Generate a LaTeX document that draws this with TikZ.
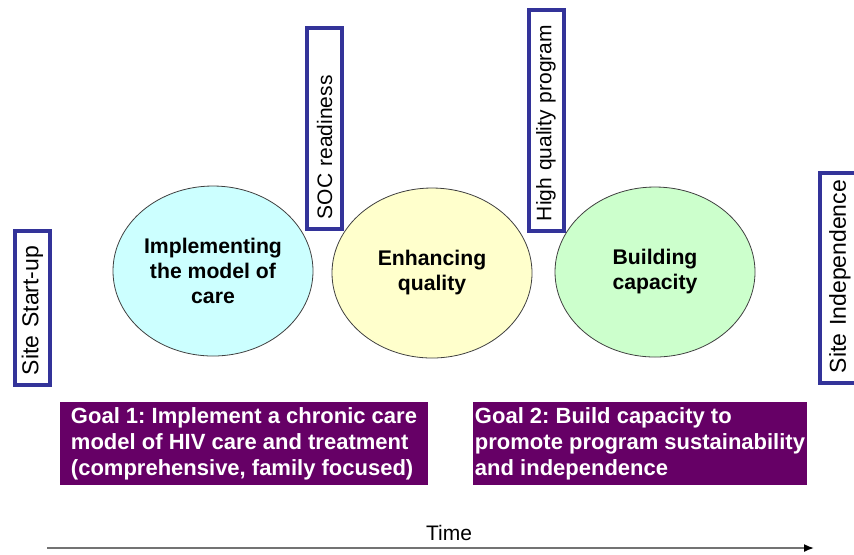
\documentclass[tikz,border=0pt]{standalone}
\usepackage{fontspec}
\setmainfont{Liberation Sans}
\usetikzlibrary{shapes.geometric,arrows.meta}
\frenchspacing

\definecolor{milestoneblue}{HTML}{333399}
\definecolor{goalpurple}{HTML}{660066}
\definecolor{phaseone}{HTML}{CCFFFF}
\definecolor{phasetwo}{HTML}{FFFFCC}
\definecolor{phasethree}{HTML}{CCFFCC}

\tikzset{
  phase/.style={ellipse, draw=black!75, thin, minimum width=100pt, minimum height=85pt,
    inner sep=0pt, align=center, font=\fontsize{10.6}{12.5}\selectfont\bfseries},
  milestone/.style={draw=milestoneblue, line width=2pt, fill=white, rotate=90,
    minimum height=17.5pt, inner xsep=5pt, inner ysep=0pt, align=left,
    font=\fontsize{10.5}{12}\selectfont},
  goalbox/.style={fill=goalpurple, text=white, minimum height=41.5pt, inner sep=0pt,
    align=left, font=\fontsize{11}{13}\selectfont\bfseries},
  timeline/.style={draw=black!55, thick, -{Latex[length=5pt,width=4pt,black]}}
}

\begin{document}
\begin{tikzpicture}[x=0.5pt, y=-0.5pt]
  \useasboundingbox (0,0) rectangle (854,554);

  % phases
  \node[phase, fill=phaseone]   (implement) at (213,271) {Implementing\\the model of\\care};
  \node[phase, fill=phasetwo]   (enhance)   at (432,273) {Enhancing\\quality};
  \node[phase, fill=phasethree] (build)     at (655,272) {Building\\capacity};

  % milestones
  \node[milestone, text width=67pt, font=\fontsize{11.5}{13}\selectfont]  (startup) at (32.5,308) {\mbox{Site Start-up}};
  \node[milestone, text width=90.5pt]  (soc) at (324.5,128.5) {\mbox{SOC readiness}};
  \node[milestone, text width=100.5pt] (hqp) at (546,120.5) {\mbox{High quality program}};
  \node[milestone, text width=95pt, minimum height=20pt, font=\fontsize{11.5}{13}\selectfont] (independence) at (840,278) {\mbox{Site Independence}};

  % goals
  \node[goalbox, minimum width=184pt] (goalone) at (244,443.5)
    {Goal 1: Implement a chronic care\\model of HIV care and treatment\\(comprehensive, family focused)};
  \node[goalbox, minimum width=167pt] (goaltwo) at (640,443.5)
    {Goal 2: Build capacity to\\promote program sustainability\\and independence};

  % time axis
  \coordinate (tstart) at (47,548);
  \coordinate (tend) at (814,548);
  \draw[timeline] (tstart) -- (tend);
  \node[font=\fontsize{10.5}{12}\selectfont] (time) at (449,533) {Time};
\end{tikzpicture}
\end{document}
